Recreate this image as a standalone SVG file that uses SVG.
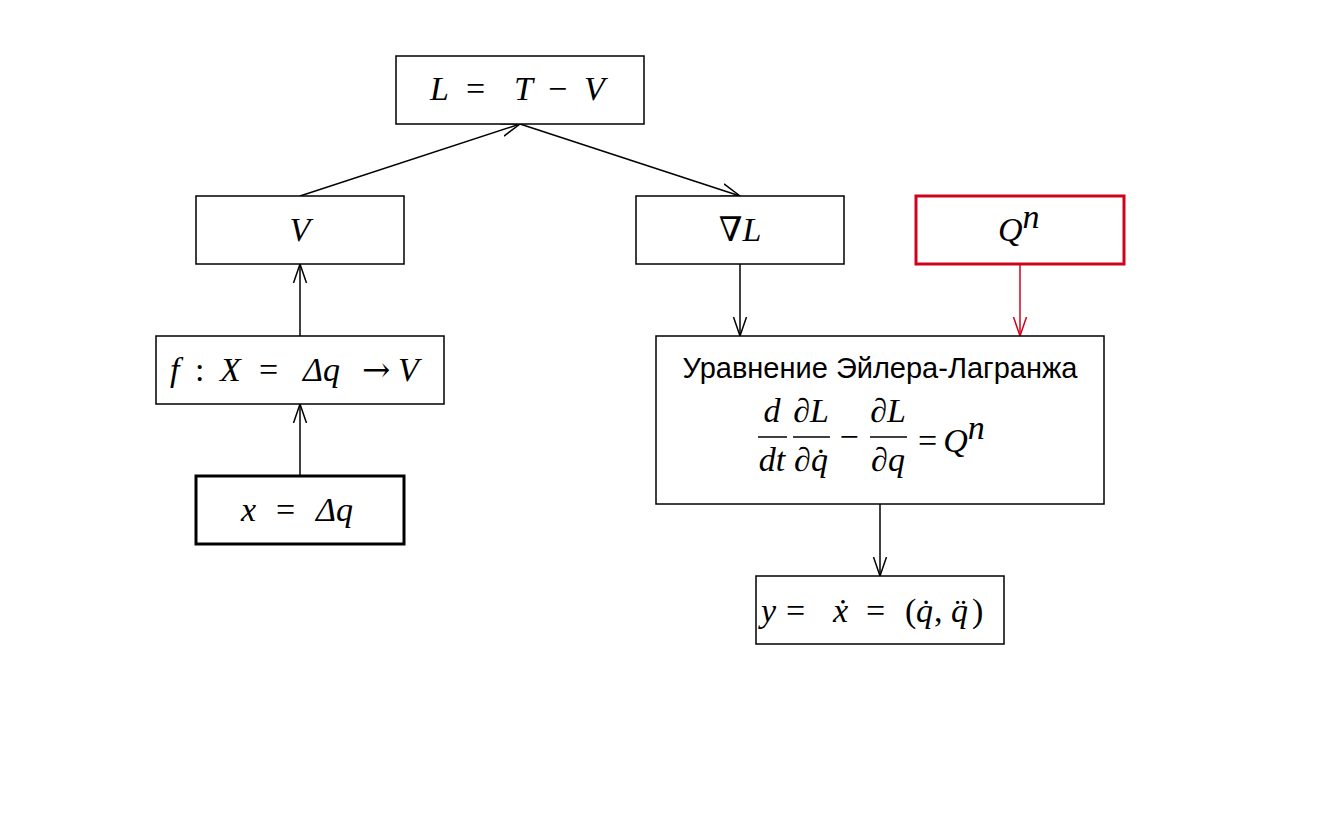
<svg xmlns="http://www.w3.org/2000/svg" width="1324" height="822" viewBox="0 0 1324 822">
<defs>
<style>
.box{fill:#fff;stroke:#000;stroke-width:1.5}
.thick{stroke-width:3}
.red{stroke:#d0021b;stroke-width:3}
.m{font-family:"Liberation Serif","DejaVu Serif",serif;font-style:italic;font-size:34px;fill:#000}
.u{font-family:"Liberation Serif","DejaVu Serif",serif;font-size:34px;fill:#000}
.ar{font-family:"DejaVu Serif",serif;font-size:34px;fill:#000}
.s{font-family:"Liberation Sans",Arial,sans-serif;font-size:29px;fill:#000}
.c{fill:none;stroke:#000;stroke-width:1.5}
.cr{fill:none;stroke:#d0021b;stroke-width:1.5}
</style>
<marker id="a" markerUnits="userSpaceOnUse" markerWidth="22" markerHeight="16" refX="19" refY="7" orient="auto" viewBox="0 0 22 14">
<path d="M0,0.5 L19,7 L0,13.5" fill="none" stroke="#000" stroke-width="1.5"/>
</marker>
<marker id="ar" markerUnits="userSpaceOnUse" markerWidth="22" markerHeight="16" refX="19" refY="7" orient="auto" viewBox="0 0 22 14">
<path d="M0,0.5 L19,7 L0,13.5" fill="none" stroke="#d0021b" stroke-width="1.5"/>
</marker>
</defs>
<rect width="1324" height="822" fill="#fff"/>
<g id="connectors">
<line class="c" x1="300" y1="196" x2="520" y2="124" marker-end="url(#a)"/>
<line class="c" x1="520" y1="124" x2="740" y2="196" marker-end="url(#a)"/>
<line class="c" x1="740" y1="264" x2="740" y2="336" marker-end="url(#a)"/>
<line class="cr" x1="1020" y1="264" x2="1020" y2="336" marker-end="url(#ar)"/>
<line class="c" x1="300" y1="336" x2="300" y2="264" marker-end="url(#a)"/>
<line class="c" x1="300" y1="476" x2="300" y2="404" marker-end="url(#a)"/>
<line class="c" x1="880" y1="504" x2="880" y2="576" marker-end="url(#a)"/>
</g>
<g id="node-L">
<rect class="box" x="396" y="56" width="248" height="68"/>
<text y="100"><tspan class="m" x="430">L</tspan><tspan class="u" x="466">=</tspan><tspan class="m" x="514">T</tspan><tspan class="u" x="548">−</tspan><tspan class="m" x="584">V</tspan></text>
</g>
<g id="node-V">
<rect class="box" x="196" y="196" width="208" height="68"/>
<text class="m" x="300" y="241" text-anchor="middle">V</text>
</g>
<g id="node-gradL">
<rect class="box" x="636" y="196" width="208" height="68"/>
<text x="740" y="241" text-anchor="middle"><tspan class="u">∇</tspan><tspan class="m">L</tspan></text>
</g>
<g id="node-Q">
<rect class="box red" x="916" y="196" width="208" height="68"/>
<text x="998" y="241"><tspan class="m">Q</tspan><tspan class="m" font-size="22" dy="-13">n</tspan></text>
</g>
<g id="node-f">
<rect class="box" x="156" y="336" width="288" height="68"/>
<text y="381"><tspan class="m" x="170">f</tspan><tspan class="u" x="195">:</tspan><tspan class="m" x="220">X</tspan><tspan class="u" x="259">=</tspan><tspan class="m" x="303">Δq</tspan><tspan class="ar" x="362">→</tspan><tspan class="m" x="398">V</tspan></text>
</g>
<g id="node-x">
<rect class="box thick" x="196" y="476" width="208" height="68"/>
<text y="521"><tspan class="m" x="241">x</tspan><tspan class="u" x="276">=</tspan><tspan class="m" x="316">Δq</tspan></text>
</g>
<g id="node-euler">
<rect class="box" x="656" y="336" width="448" height="168"/>
<text class="s" x="880" y="378" text-anchor="middle">Уравнение Эйлера-Лагранжа</text>
<line x1="758" y1="437" x2="787" y2="437" stroke="#000" stroke-width="1.5"/>
<line x1="793" y1="437" x2="830" y2="437" stroke="#000" stroke-width="1.5"/>
<line x1="870" y1="437" x2="907" y2="437" stroke="#000" stroke-width="1.5"/>
<text class="m" x="772" y="422" text-anchor="middle">d</text>
<text class="m" x="772" y="471" text-anchor="middle">dt</text>
<text x="811" y="422" text-anchor="middle"><tspan class="u">∂</tspan><tspan class="m">L</tspan></text>
<text x="811" y="471" text-anchor="middle"><tspan class="u">∂</tspan><tspan class="m">q̇</tspan></text>
<text class="u" x="849" y="448" text-anchor="middle">−</text>
<text x="888" y="422" text-anchor="middle"><tspan class="u">∂</tspan><tspan class="m">L</tspan></text>
<text x="888" y="471" text-anchor="middle"><tspan class="u">∂</tspan><tspan class="m">q</tspan></text>
<text x="918" y="452"><tspan class="u">=</tspan><tspan class="m" dx="6">Q</tspan><tspan class="m" font-size="22" dy="-13">n</tspan></text>
</g>
<g id="node-y">
<rect class="box" x="756" y="576" width="248" height="68"/>
<text y="622"><tspan class="m" x="761">y</tspan><tspan class="u" x="786">=</tspan><tspan class="m" x="833">ẋ</tspan><tspan class="u" x="866">=</tspan><tspan class="u" x="905">(</tspan><tspan class="m" x="916">q̇</tspan><tspan class="u" x="934">,</tspan><tspan class="m" x="951">q̈</tspan><tspan class="u" x="972">)</tspan></text>
</g>
</svg>
